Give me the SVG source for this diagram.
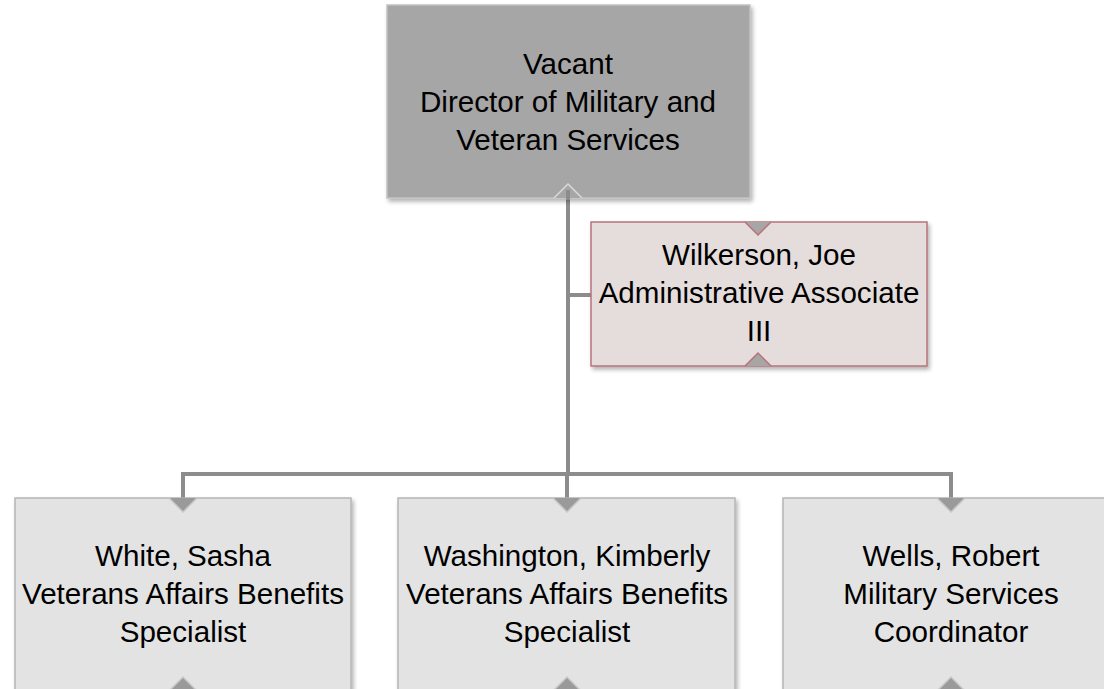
<svg xmlns="http://www.w3.org/2000/svg" width="1104" height="689" viewBox="0 0 1104 689">
<defs>
<filter id="sh" x="-5%" y="-5%" width="115%" height="115%">
<feGaussianBlur in="SourceAlpha" stdDeviation="2"/>
<feOffset dx="2" dy="3" result="b"/>
<feComponentTransfer><feFuncA type="linear" slope="0.3"/></feComponentTransfer>
<feMerge><feMergeNode/><feMergeNode in="SourceGraphic"/></feMerge>
</filter>
</defs>
<style>
text{font-family:"Liberation Sans",Arial,sans-serif;font-size:29.6px;fill:#000;text-anchor:middle}
.line{stroke:#8c8c8c;stroke-width:4;fill:none}
.gray{fill:#e3e3e3;stroke:#b5b5b5;stroke-width:1.5}
.dark{fill:#a6a6a6;stroke:#c2c2c2;stroke-width:1.5}
.pink{fill:#e5dcdc;stroke:#b8737a;stroke-width:1.5}
.tri{fill:#9a9a9a}
</style>
<g id="connectors">
<path class="line" d="M568 190 V474"/>
<path class="line" d="M568 295 H591"/>
<path class="line" d="M183 498 V474 H951 V498"/>
<path class="line" d="M567 474 V498"/>
</g>
<g id="director">
<rect class="dark" x="387" y="5" width="363" height="193" filter="url(#sh)"/>
<polygon points="554,198 582,198 568,184" fill="#a6a6a6"/>
<polyline points="554,198 568,184 582,198" fill="none" stroke="#d9d9d9" stroke-width="1.5"/>
<path class="line" d="M568 190 V200"/>
<text x="568" y="74">Vacant</text>
<text x="568" y="112">Director of Military and</text>
<text x="568" y="150">Veteran Services</text>
</g>
<g id="wilkerson">
<rect class="pink" x="591" y="222" width="336" height="144" filter="url(#sh)"/>
<polygon points="745,222 771,222 758,235" fill="#a6a6a6"/>
<polyline points="745,222 758,235 771,222" fill="none" stroke="#b8737a" stroke-width="1.5"/>
<polygon points="745,366 771,366 758,353" fill="#a6a6a6"/>
<polyline points="745,366 758,353 771,366" fill="none" stroke="#b8737a" stroke-width="1.5"/>
<text x="759" y="265">Wilkerson, Joe</text>
<text x="759" y="303">Administrative Associate</text>
<text x="759" y="341">III</text>
</g>
<g id="white">
<rect class="gray" x="15" y="498" width="336" height="192" filter="url(#sh)"/>
<polygon class="tri" points="169,498 197,498 183,512"/>
<polyline points="169,498 183,512 197,498" fill="none" stroke="#c8c8c8" stroke-width="1.5"/>
<polygon class="tri" points="169,691 197,691 183,677"/>
<polyline points="169,691 183,677 197,691" fill="none" stroke="#c8c8c8" stroke-width="1.5"/>
<text x="183" y="566">White, Sasha</text>
<text x="183" y="604">Veterans Affairs Benefits</text>
<text x="183" y="642">Specialist</text>
</g>
<g id="washington">
<rect class="gray" x="398" y="498" width="337" height="192" filter="url(#sh)"/>
<polygon class="tri" points="553,498 581,498 567,512"/>
<polyline points="553,498 567,512 581,498" fill="none" stroke="#c8c8c8" stroke-width="1.5"/>
<polygon class="tri" points="553,691 581,691 567,677"/>
<polyline points="553,691 567,677 581,691" fill="none" stroke="#c8c8c8" stroke-width="1.5"/>
<text x="567" y="566">Washington, Kimberly</text>
<text x="567" y="604">Veterans Affairs Benefits</text>
<text x="567" y="642">Specialist</text>
</g>
<g id="wells">
<rect class="gray" x="783" y="498" width="336" height="192" filter="url(#sh)"/>
<polygon class="tri" points="937,498 965,498 951,512"/>
<polyline points="937,498 951,512 965,498" fill="none" stroke="#c8c8c8" stroke-width="1.5"/>
<polygon class="tri" points="937,691 965,691 951,677"/>
<polyline points="937,691 951,677 965,691" fill="none" stroke="#c8c8c8" stroke-width="1.5"/>
<text x="951" y="566">Wells, Robert</text>
<text x="951" y="604">Military Services</text>
<text x="951" y="642">Coordinator</text>
</g>
</svg>
